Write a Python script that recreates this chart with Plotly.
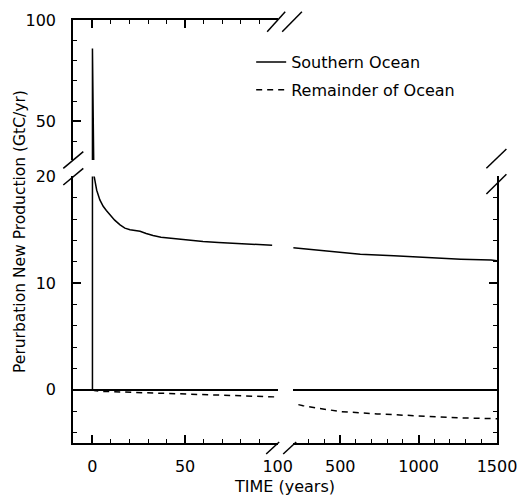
import plotly.graph_objects as go

# ---------------- data ----------------
so_t_early = [0, 0, 0.5, 0.8, 1.5, 2.3, 4.0, 5.8, 7.5, 9.5, 12.0, 14.9, 17.5, 20.3, 25.7, 29.0,
              32.7, 37.0, 41.9, 50.0, 59.7, 68.0, 77.9, 88.0, 97]
so_v_early = [0, 86, 20.4, 20.1, 19.3, 18.7, 17.8, 17.2, 16.8, 16.4, 15.9, 15.45, 15.15, 15.0,
              14.85, 14.65, 14.45, 14.3, 14.2, 14.05, 13.9, 13.8, 13.7, 13.62, 13.55]
so_t_late = [200, 330, 436, 500, 628, 842, 1056, 1269, 1462, 1500]
so_v_late = [13.3, 13.12, 13.0, 12.86, 12.7, 12.55, 12.37, 12.24, 12.15, 12.1]

rem_t_early = [0, 1, 5.8, 23.9, 49, 74, 99]
rem_v_early = [0, -0.08, -0.16, -0.25, -0.37, -0.53, -0.68]
rem_t_late = [233, 263, 351, 500, 735, 1056, 1269, 1500]
rem_v_late = [-1.4, -1.5, -1.72, -2.05, -2.27, -2.5, -2.65, -2.72]

series_names = ["Southern Ocean", "Remainder of Ocean"]
x_title = "TIME (years)"
y_title = "Perurbation New Production (GtC/yr)"

# ---------------- layout geometry ----------------
W, H = 518, 504
L, R, T, B = 73, 496.6, 20, 443          # plot frame in window pixels
PW, PH = R - L, B - T


def px(x):
    return (x - L) / PW


def py(y):
    return (B - y) / PH


FONT = "DejaVu Sans"
BLACK = "black"

xl_dom = [0, px(277.5)]
xr_dom = [px(293), 1]
yl_dom = [0, py(176.4)]
yu_dom = [py(160), 1]

fig = go.Figure()

solid = dict(color=BLACK, width=1.5)
dashed = dict(color=BLACK, width=1.5, dash="6px,5px")

# Southern Ocean
fig.add_trace(go.Scatter(x=so_t_early, y=so_v_early, mode="lines", line=solid,
                         name=series_names[0], legendgroup="a", xaxis="x", yaxis="y"))
fig.add_trace(go.Scatter(x=so_t_early, y=so_v_early, mode="lines", line=solid,
                         name=series_names[0], legendgroup="a", showlegend=False,
                         xaxis="x3", yaxis="y3"))
fig.add_trace(go.Scatter(x=so_t_late, y=so_v_late, mode="lines", line=solid,
                         name=series_names[0], legendgroup="a", showlegend=False,
                         xaxis="x2", yaxis="y2"))
# Remainder of Ocean
fig.add_trace(go.Scatter(x=rem_t_early, y=rem_v_early, mode="lines", line=dashed,
                         name=series_names[1], legendgroup="b", xaxis="x", yaxis="y"))
fig.add_trace(go.Scatter(x=rem_t_late, y=rem_v_late, mode="lines", line=dashed,
                         name=series_names[1], legendgroup="b", showlegend=False,
                         xaxis="x2", yaxis="y2"))

tickfont = dict(family=FONT, size=16, color=BLACK)
common = dict(showline=True, linecolor=BLACK, linewidth=1.5, ticks="inside",
              ticklen=8, tickwidth=1.5, tickcolor=BLACK, showgrid=False,
              zeroline=False, tickfont=tickfont, fixedrange=True, automargin=False,
              ticklabeloverflow="allow")


def minor(d):
    return dict(dtick=d, ticklen=4, tickwidth=1.2, tickcolor=BLACK, ticks="inside")


fig.update_layout(
    width=W, height=H, autosize=False,
    margin=dict(l=L, r=W - R, t=T, b=H - B, pad=0),
    paper_bgcolor="white", plot_bgcolor="white",
    font=dict(family=FONT, size=16, color=BLACK),
    showlegend=True,
    legend=dict(x=px(251), y=py(45), xanchor="left", yanchor="top",
                bgcolor="rgba(0,0,0,0)", font=dict(family=FONT, size=16, color=BLACK),
                tracegroupgap=4, traceorder="grouped"),
    # lower-left
    xaxis=dict(domain=xl_dom, anchor="y", range=[-10.5, 100], dtick=50, tick0=0,
               minor=minor(10), ticklabelstandoff=8, **common),
    yaxis=dict(domain=yl_dom, anchor="x", range=[-5, 20], dtick=10, tick0=0,
               minor=minor(2), ticklabelstandoff=12,
               **{**common, "zeroline": True}, zerolinecolor=BLACK, zerolinewidth=1.5),
    # lower-right
    xaxis2=dict(domain=xr_dom, anchor="y2", range=[200, 1500], dtick=500, tick0=0,
                minor=minor(100), ticklabelstandoff=8, **common),
    yaxis2=dict(domain=yl_dom, anchor="x2", side="right", range=[-5, 20], dtick=10, tick0=0,
                minor=minor(2), showticklabels=False,
                **{**common, "zeroline": True}, zerolinecolor=BLACK, zerolinewidth=1.5),
    # upper-left
    xaxis3=dict(domain=xl_dom, anchor="y3", side="top", range=[-10.5, 100], dtick=50, tick0=0,
                minor=minor(10), showticklabels=False, **common),
    yaxis3=dict(domain=yu_dom, anchor="x3", range=[31, 100], dtick=50, tick0=0,
                minor=minor(10), ticklabelstandoff=12, **common),
    # upper-right
    xaxis4=dict(domain=xr_dom, anchor="y4", side="top", range=[200, 1500], dtick=500, tick0=0,
                minor=minor(100), showticklabels=False, **common),
    yaxis4=dict(domain=yu_dom, anchor="x4", side="right", range=[31, 100], dtick=50, tick0=0,
                minor=minor(10), showticklabels=False, **common),
)

# axis titles
fig.add_annotation(text=x_title, xref="paper", yref="paper", x=px(284), y=py(487),
                   xanchor="center", yanchor="middle",
                   showarrow=False, font=dict(family=FONT, size=16, color=BLACK))
fig.add_annotation(text=y_title, xref="paper", yref="paper", x=px(20), y=py(231),
                   xanchor="center", yanchor="middle",
                   textangle=-90, showarrow=False, font=dict(family=FONT, size=15.5, color=BLACK))

# break marks (decorations)
breaks = [
    ((266, 454), (279, 442)), ((283, 454), (296, 442)),        # bottom
    ((267, 31.7), (285, 11.7)), ((282, 31.7), (301.7, 11.7)),  # top
    ((63.3, 168.3), (83.3, 151.7)), ((63.3, 185), (83.3, 168.3)),  # left
    ((486, 168.3), (506, 149)), ((486, 194), (506, 174.3)),        # right
]
for (x0, y0), (x1, y1) in breaks:
    fig.add_shape(type="line", xref="paper", yref="paper",
                  x0=px(x0), y0=py(y0), x1=px(x1), y1=py(y1),
                  line=dict(color=BLACK, width=1.5))

fig.write_html(
    "out.html",
    config={"displayModeBar": False},
    post_script="document.body.style.margin='0';document.body.style.overflow='hidden';",
)
